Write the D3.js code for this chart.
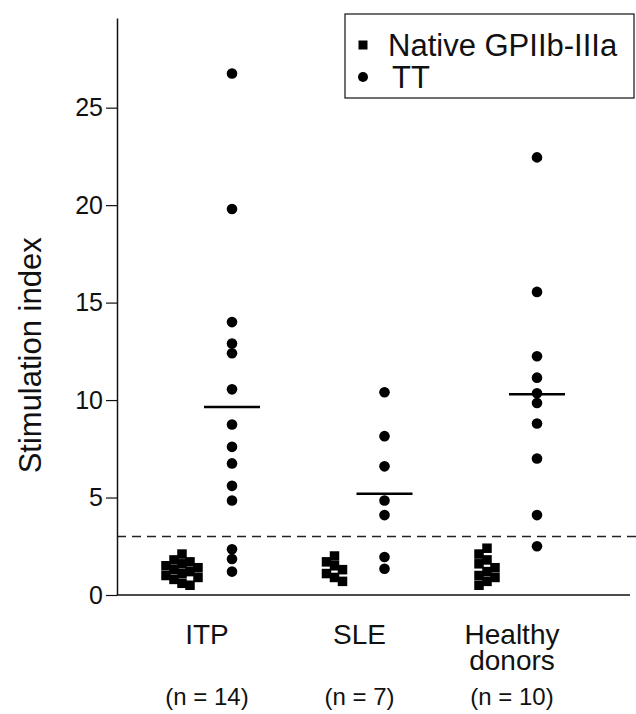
<!DOCTYPE html>
<html>
<head>
<meta charset="utf-8">
<script src="https://cdn.jsdelivr.net/npm/d3@7/dist/d3.min.js"></script>
<style>
  html, body { margin: 0; padding: 0; background: #fff; }
  svg { display: block; font-family: "Liberation Sans", Arial, Helvetica, sans-serif; }
</style>
</head>
<body>
<svg id="chart"></svg>
<script>
// data
const categories = ["ITP", "SLE", "Healthy donors"];
const nLabels = ["(n = 14)", "(n = 7)", "(n = 10)"];
const nativeValues = [
  [2.1, 1.8, 1.7, 1.6, 1.5, 1.4, 1.3, 1.2, 1.1, 1.0, 0.9, 0.8, 0.6, 0.5],
  [2.0, 1.7, 1.5, 1.3, 1.1, 0.9, 0.7],
  [2.4, 2.1, 1.8, 1.6, 1.4, 1.2, 1.0, 0.9, 0.7, 0.5]
];
const ttValues = [
  [26.75, 19.8, 14.0, 12.9, 12.4, 10.55, 8.75, 7.6, 6.75, 5.6, 4.85, 2.35, 1.85, 1.2],
  [10.4, 8.15, 6.6, 4.85, 4.1, 1.95, 1.35],
  [22.45, 15.55, 12.25, 11.15, 10.35, 9.85, 8.8, 7.0, 4.1, 2.5]
];
const medians = [9.65, 5.2, 10.3];
const cutoff = 3;
const yTicks = [0, 5, 10, 15, 20, 25];
const legendLabels = ["Native GPIIb-IIIa", "TT"];

const W = 636, H = 714;
const margin = {left: 117, top: 18, right: 6, bottom: 119};
const sq = 9.5;      // square size
const r = 5.3;       // dot radius
const pairGap = 25;  // offset of each series from the category centre

const svg = d3.select("#chart").attr("width", W).attr("height", H);

const y = d3.scaleLinear().domain([0, 29.6]).range([H - margin.bottom, margin.top]);
const x = d3.scalePoint().domain(categories).range([207, 512]);

// cut-off line
svg.append("line")
  .attr("x1", margin.left).attr("x2", W)
  .attr("y1", y(cutoff)).attr("y2", y(cutoff))
  .attr("stroke", "#222").attr("stroke-width", 1.3)
  .attr("stroke-dasharray", "9,6");

// y axis
const yAxis = svg.append("g")
  .attr("transform", `translate(${margin.left},0)`)
  .call(d3.axisLeft(y).tickValues(yTicks).tickSize(11).tickPadding(3).tickSizeOuter(0));
yAxis.select(".domain").attr("stroke", "#111").attr("stroke-width", 1.5);
yAxis.selectAll(".tick line").attr("stroke", "#111").attr("stroke-width", 1.2);
yAxis.selectAll(".tick text").attr("font-size", 25).attr("fill", "#111")
  .attr("font-family", "Liberation Sans, Arial, sans-serif");

// x baseline
svg.append("line")
  .attr("x1", margin.left).attr("x2", 630)
  .attr("y1", y(0)).attr("y2", y(0))
  .attr("stroke", "#111").attr("stroke-width", 1.5);

// y title
svg.append("text")
  .attr("transform", `translate(41,${(y(0) + y(25)) / 2 + 4}) rotate(-90)`)
  .attr("text-anchor", "middle")
  .attr("font-size", 31).attr("fill", "#111")
  .text("Stimulation index");

// simple dodge layout for the squares
function dodge(values, cx) {
  const placed = [];
  const step = 8;
  values.slice().sort((a, b) => b - a).forEach(v => {
    const py = y(v);
    for (let k = 0; k < 12; k++) {
      const off = (k % 2 === 0 ? 1 : -1) * Math.ceil(k / 2) * step;
      const px = cx + off;
      const hit = placed.some(p => Math.abs(p.x - px) < step - 0.5 && Math.abs(p.y - py) < sq);
      if (!hit) { placed.push({x: px, y: py, v}); break; }
    }
  });
  return placed;
}

categories.forEach((c, i) => {
  const cx = x(c);
  const g = svg.append("g");

  g.selectAll("rect")
    .data(dodge(nativeValues[i], cx - pairGap))
    .enter().append("rect")
    .attr("x", d => d.x - sq / 2).attr("y", d => d.y - sq / 2)
    .attr("width", sq).attr("height", sq)
    .attr("fill", "#000");

  g.selectAll("circle")
    .data(ttValues[i])
    .enter().append("circle")
    .attr("cx", cx + pairGap).attr("cy", d => y(d))
    .attr("r", r).attr("fill", "#000");

  g.append("line")
    .attr("x1", cx + pairGap - 28).attr("x2", cx + pairGap + 28)
    .attr("y1", y(medians[i])).attr("y2", y(medians[i]))
    .attr("stroke", "#000").attr("stroke-width", 2.5);

  // category label, split across lines
  const words = c.split(" ");
  const t = svg.append("text")
    .attr("text-anchor", "middle").attr("font-size", 28).attr("fill", "#111");
  words.forEach((w, j) => {
    t.append("tspan").attr("x", cx).attr("y", 644 + j * 26).text(w);
  });

  svg.append("text")
    .attr("x", cx).attr("y", 705)
    .attr("text-anchor", "middle").attr("font-size", 24).attr("fill", "#111")
    .text(nLabels[i]);
});

// legend
const lg = svg.append("g").attr("transform", "translate(345,14)");
lg.append("rect")
  .attr("width", 289).attr("height", 84)
  .attr("fill", "#fff").attr("stroke", "#111").attr("stroke-width", 1.2);
lg.append("rect").attr("x", 18 - 4.5).attr("y", 31 - 4.5).attr("width", 9).attr("height", 9).attr("fill", "#000");
lg.append("circle").attr("cx", 18).attr("cy", 63).attr("r", 5).attr("fill", "#000");
lg.selectAll("text.leg")
  .data(legendLabels)
  .enter().append("text")
  .attr("class", "leg")
  .attr("x", (d, i) => i === 0 ? 43 : 47)
  .attr("y", (d, i) => 42 + i * 32)
  .attr("font-size", 31).attr("fill", "#111")
  .text(d => d);
</script>
</body>
</html>
